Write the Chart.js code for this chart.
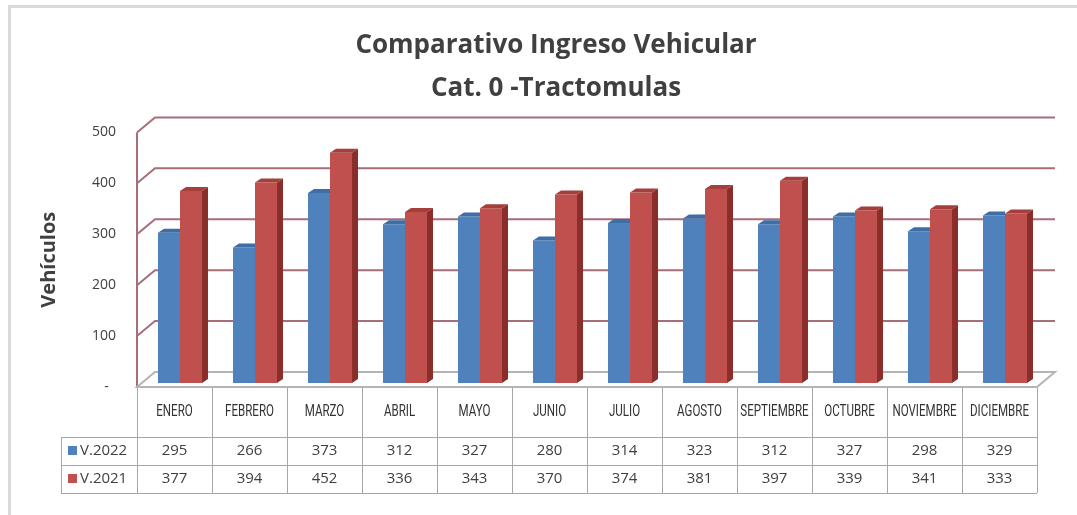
<!DOCTYPE html>
<html>
<head>
<meta charset="utf-8">
<script src="https://cdn.jsdelivr.net/npm/chart.js@4.4.1/dist/chart.umd.min.js"></script>
<style>
  body { margin: 0; background: #fff; }
  #wrap { position: relative; width: 1077px; height: 515px; overflow: hidden; background: #fff; }
  #frame { position: absolute; left: 8px; top: 5px; right: -10px; bottom: -10px;
           border-top: 3px solid #d9d9d9; border-left: 3px solid #d9d9d9; }
  canvas { position: absolute; left: 0; top: 0; }
</style>
</head>
<body>
<div id="wrap"><div id="frame"></div><canvas id="chart" width="1077" height="515"></canvas></div>
<script>
// ---- data ----
const months = ['ENERO', 'FEBRERO', 'MARZO', 'ABRIL', 'MAYO', 'JUNIO', 'JULIO', 'AGOSTO',
                'SEPTIEMBRE', 'OCTUBRE', 'NOVIEMBRE', 'DICIEMBRE'];
const v2022 = [295, 266, 373, 312, 327, 280, 314, 323, 312, 327, 298, 329];
const v2021 = [377, 394, 452, 336, 343, 370, 374, 381, 397, 339, 341, 333];
const seriesNames = ['V.2022', 'V.2021'];
const yTicks = [0, 100, 200, 300, 400, 500];
const titleLines = ['Comparativo Ingreso Vehicular', 'Cat. 0 -Tractomulas'];
const yTitle = 'Vehículos';

// ---- look ----
const TEXT = '#404040';
const GRID = '#a86e78';
const BLUE = '#4f81bd', BLUE_TOP = '#3f6da6';
const RED = '#c0504d', RED_TOP = '#a63e3b', RED_SIDE = '#8a2e2b';
const WALL = { dx: 18, dy: -15 };      // back wall offset
const SHIFT = { dx: 5.5, dy: -4 };     // bars sit a bit behind the front plane
const DEPTH = { dx: 6, dy: -4 };       // bar thickness

function line(ctx, x1, y1, x2, y2) {
  ctx.beginPath(); ctx.moveTo(x1, y1); ctx.lineTo(x2, y2); ctx.stroke();
}

// walls + floor, drawn behind the bars
const walls = {
  id: 'walls',
  beforeDatasetsDraw(chart) {
    const { ctx, chartArea: a, scales: { y } } = chart;
    ctx.save();
    ctx.strokeStyle = GRID;
    ctx.lineWidth = 2;
    yTicks.forEach(v => {
      if (v === 0) return;
      const py = y.getPixelForValue(v);
      ctx.beginPath();
      ctx.moveTo(a.left, py);
      ctx.lineTo(a.left + WALL.dx, py + WALL.dy);
      ctx.lineTo(a.right + WALL.dx, py + WALL.dy);
      ctx.stroke();
    });
    line(ctx, a.left, a.top, a.left, a.bottom);
    // floor
    ctx.beginPath();
    ctx.moveTo(a.left, a.bottom);
    ctx.lineTo(a.right, a.bottom);
    ctx.lineTo(a.right + WALL.dx, a.bottom + WALL.dy);
    ctx.lineTo(a.left + WALL.dx, a.bottom + WALL.dy);
    ctx.closePath();
    ctx.fillStyle = '#fff';
    ctx.fill();
    ctx.strokeStyle = '#b4b4b4';
    ctx.lineWidth = 2;
    ctx.stroke();
    ctx.restore();
  }
};

// pseudo 3D faces for the columns
const bars3d = {
  id: 'bars3d',
  beforeDatasetsDraw(chart) {
    chart.ctx.save();
    chart.ctx.translate(SHIFT.dx, SHIFT.dy);
  },
  afterDatasetsDraw(chart) {
    const ctx = chart.ctx;
    chart.data.datasets.forEach((ds, di) => {
      const isRed = di === 1;
      chart.getDatasetMeta(di).data.forEach(bar => {
        const x0 = bar.x - bar.width / 2, x1 = bar.x + bar.width / 2;
        const t = bar.y, b = bar.base;
        ctx.fillStyle = isRed ? RED_TOP : BLUE_TOP;
        ctx.beginPath();
        ctx.moveTo(x0, t);
        ctx.lineTo(x1, t);
        // blue side is hidden behind the taller red column
        ctx.lineTo(isRed ? x1 + DEPTH.dx : x1, t + DEPTH.dy);
        ctx.lineTo(x0 + DEPTH.dx, t + DEPTH.dy);
        ctx.closePath();
        ctx.fill();
        if (isRed) {
          ctx.fillStyle = RED_SIDE;
          ctx.beginPath();
          ctx.moveTo(x1, t);
          ctx.lineTo(x1 + DEPTH.dx, t + DEPTH.dy);
          ctx.lineTo(x1 + DEPTH.dx, b + DEPTH.dy);
          ctx.lineTo(x1, b);
          ctx.closePath();
          ctx.fill();
        }
      });
    });
    ctx.restore();
  }
};

// data table under the plot
const dataTable = {
  id: 'dataTable',
  afterDraw(chart) {
    const { ctx, chartArea: a, scales: { x } } = chart;
    const half = (x.getPixelForValue(1) - x.getPixelForValue(0)) / 2;
    const top = a.bottom, r1 = top + 50, r2 = r1 + 28, r3 = r2 + 28;
    const legL = a.left - 76;
    const px = v => Math.round(v) + 0.5;
    ctx.save();
    ctx.strokeStyle = '#a6a6a6';
    ctx.lineWidth = 1;
    [r1, r2, r3].forEach(yy => line(ctx, legL, px(yy), a.right, px(yy)));
    line(ctx, px(legL), r1, px(legL), r3);
    for (let i = 0; i <= months.length; i++) {
      const xx = px(x.getPixelForValue(i) - half);
      line(ctx, xx, top + 1, xx, r3);
    }
    // month headers, condensed
    ctx.fillStyle = '#333';
    ctx.textAlign = 'center';
    ctx.textBaseline = 'middle';
    ctx.font = '17px Roboto';
    months.forEach((m, i) => {
      ctx.save();
      ctx.translate(x.getPixelForValue(i), top + 25);
      ctx.scale(0.68, 1);
      ctx.fillText(m, 0, 0);
      ctx.restore();
    });
    // values
    ctx.font = '15px "Open Sans"';
    ctx.fillStyle = TEXT;
    [v2022, v2021].forEach((arr, si) => {
      const cy = (si === 0 ? r1 : r2) + 14;
      arr.forEach((v, i) => ctx.fillText(String(v), x.getPixelForValue(i), cy));
      ctx.fillStyle = si === 0 ? BLUE : RED;
      ctx.fillRect(legL + 7, cy - 5, 9, 9);
      ctx.fillStyle = TEXT;
      ctx.textAlign = 'left';
      ctx.fillText(seriesNames[si], legL + 19, cy);
      ctx.textAlign = 'center';
    });
    ctx.restore();
  }
};

new Chart(document.getElementById('chart'), {
  type: 'bar',
  data: {
    labels: months,
    datasets: [
      { label: seriesNames[0], data: v2022, backgroundColor: BLUE, clip: false,
        categoryPercentage: 0.587, barPercentage: 1 },
      { label: seriesNames[1], data: v2021, backgroundColor: RED, clip: false,
        categoryPercentage: 0.587, barPercentage: 1 }
    ]
  },
  options: {
    responsive: false,
    animation: false,
    devicePixelRatio: 1,
    layout: { padding: { left: 35, right: 0, top: 0, bottom: 128 } },
    scales: {
      x: { display: false, offset: true },
      y: {
        min: 0, max: 500,
        grid: { display: false, drawTicks: false },
        border: { display: false },
        ticks: {
          stepSize: 100, padding: 21, color: TEXT,
          font: { family: 'Open Sans', size: 14 },
          callback: v => (v === 0 ? '-  ' : v)
        },
        title: {
          display: true, text: yTitle, color: TEXT,
          font: { family: 'Open Sans', size: 20, weight: 'bold' },
          padding: { top: 2, bottom: 0 }
        },
        afterFit(scale) { scale.width = 102; }
      },
      // empty right axis only reserves the space right of the plot
      yRight: {
        position: 'right', display: true,
        grid: { display: false, drawTicks: false },
        border: { display: false },
        ticks: { display: false },
        afterFit(scale) { scale.width = 40; }
      }
    },
    plugins: {
      legend: { display: false },
      tooltip: { enabled: false },
      title: {
        display: true, text: titleLines, color: TEXT,
        font: { family: 'Open Sans', size: 26, weight: 'bold', lineHeight: 1.65 },
        padding: { top: 24, bottom: 22.6 }
      }
    }
  },
  plugins: [walls, bars3d, dataTable]
});
</script>
</body>
</html>
